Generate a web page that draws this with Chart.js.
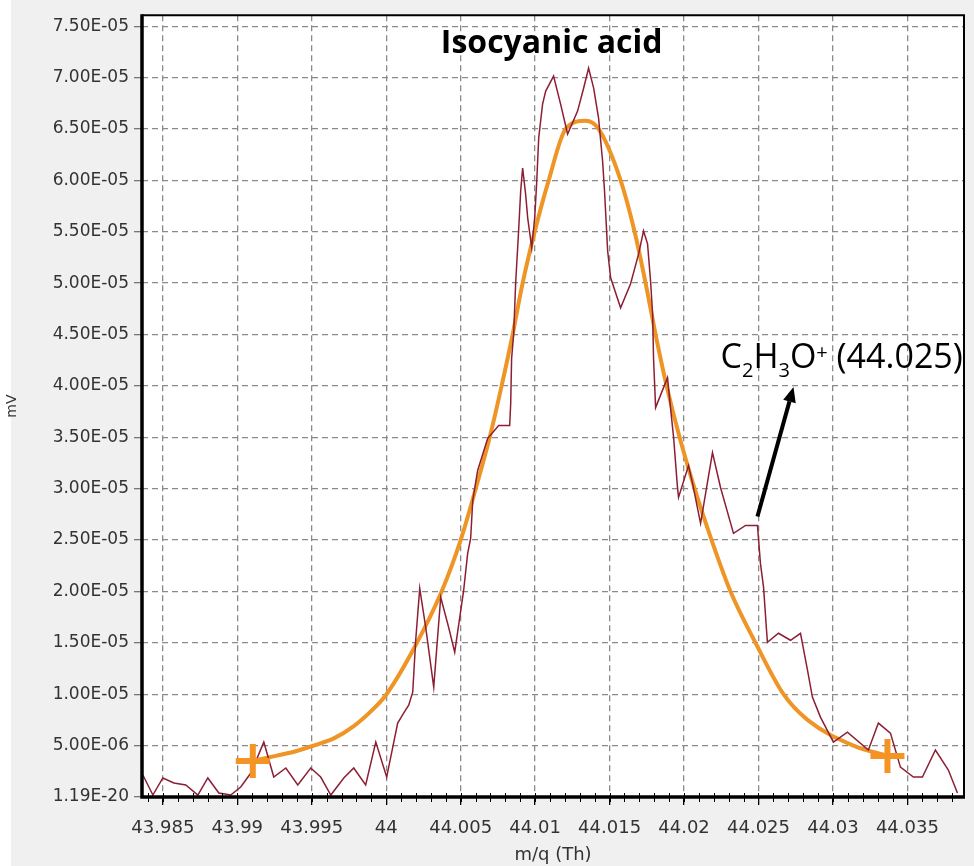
<!DOCTYPE html>
<html>
<head>
<meta charset="utf-8">
<script src="https://cdn.jsdelivr.net/npm/chart.js@4.4.1/dist/chart.umd.min.js"></script>
<style>
  html, body { margin: 0; padding: 0; background: #f0f0f0; }
  canvas { display: block; }
</style>
</head>
<body>
<canvas id="chart" width="974" height="866"></canvas>
<script>
// ── Data (m/q in Th, signal in mV) ────────────────────────────────
const rawMz = [
  43.98366, 43.98433, 43.98500, 43.98574, 43.98654, 43.98735, 43.98802, 43.98876,
  43.98956, 43.99023, 43.99091, 43.99178, 43.99245, 43.99326, 43.99406, 43.99493,
  43.99560, 43.99628, 43.99715, 43.99782, 43.99862, 43.99930, 44.00003, 44.00077,
  44.00117, 44.00151, 44.00178, 44.00198, 44.00225, 44.00265, 44.00319, 44.00366,
  44.00419, 44.00460, 44.00520, 44.00547, 44.00567, 44.00581, 44.00614, 44.00681,
  44.00755, 44.00829, 44.00836, 44.00842, 44.00856, 44.00869, 44.00889, 44.00903,
  44.00916, 44.00936, 44.00950, 44.00977, 44.00997, 44.01010, 44.01024, 44.01050,
  44.01071, 44.01124, 44.01171, 44.01218, 44.01285, 44.01326, 44.01359, 44.01393,
  44.01426, 44.01453, 44.01466, 44.01487, 44.01507, 44.01574, 44.01641, 44.01695,
  44.01728, 44.01755, 44.01775, 44.01789, 44.01795, 44.01809, 44.01889, 44.01909,
  44.01930, 44.01956, 44.01963, 44.02030, 44.02057, 44.02111, 44.02191, 44.02245,
  44.02332, 44.02413, 44.02493, 44.02513, 44.02534, 44.02554, 44.02560, 44.02634,
  44.02715, 44.02782, 44.02829, 44.02862, 44.02916, 44.03003, 44.03097, 44.03238,
  44.03305, 44.03386, 44.03453, 44.03540, 44.03601, 44.03688, 44.03775, 44.03836
];
const rawMv = [
  2.14e-6, 0.19e-6, 1.85e-6, 1.36e-6, 1.17e-6, 0.19e-6, 1.85e-6, 0.39e-6,
  0.19e-6, 0.97e-6, 2.33e-6, 5.34e-6, 1.94e-6, 2.82e-6, 1.17e-6, 2.82e-6,
  1.94e-6, 0.19e-6, 1.85e-6, 2.82e-6, 1.17e-6, 5.34e-6, 1.94e-6, 7.19e-6,
  8.16e-6, 8.94e-6, 10.20e-6, 15.25e-6, 20.30e-6, 16.52e-6, 10.69e-6, 19.43e-6,
  16.52e-6, 14.09e-6, 20.11e-6, 23.70e-6, 25.16e-6, 28.85e-6, 31.77e-6, 34.88e-6,
  36.14e-6, 36.14e-6, 38.28e-6, 42.65e-6, 45.08e-6, 49.94e-6, 55.08e-6, 58.97e-6,
  61.20e-6, 58.68e-6, 56.35e-6, 53.43e-6, 56.35e-6, 59.65e-6, 64.12e-6, 67.42e-6,
  68.69e-6, 70.14e-6, 67.42e-6, 64.51e-6, 66.74e-6, 68.98e-6, 70.92e-6, 68.98e-6,
  66.06e-6, 61.88e-6, 58.97e-6, 53.14e-6, 50.52e-6, 47.60e-6, 49.94e-6, 52.85e-6,
  55.08e-6, 53.82e-6, 50.23e-6, 47.02e-6, 42.75e-6, 37.89e-6, 40.80e-6, 37.89e-6,
  34.97e-6, 30.12e-6, 29.15e-6, 32.25e-6, 30.51e-6, 26.62e-6, 33.52e-6, 30.12e-6,
  25.65e-6, 26.42e-6, 26.42e-6, 22.73e-6, 20.40e-6, 16.22e-6, 15.06e-6, 15.93e-6,
  15.25e-6, 15.93e-6, 12.34e-6, 9.72e-6, 7.77e-6, 5.34e-6, 6.31e-6, 4.57e-6,
  7.19e-6, 6.22e-6, 2.91e-6, 1.94e-6, 1.94e-6, 4.57e-6, 2.62e-6, 0.39e-6
];

// fitted peak
const fitMz = [
  43.99104, 43.99258, 43.99393, 43.99513, 43.99648, 43.99782, 43.99916, 43.99997,
  44.00191, 44.00372, 44.00500, 44.00601, 44.00695, 44.00775, 44.00849, 44.00916,
  44.00997, 44.01091, 44.01205, 44.01339, 44.01426, 44.01574, 44.01668, 44.01742,
  44.01809, 44.01883, 44.01970, 44.02071, 44.02185, 44.02312, 44.02480, 44.02668,
  44.02829, 44.03138, 44.03366
];
const fitMv = [
  3.5e-6, 4.0e-6, 4.45e-6, 5.0e-6, 5.7e-6, 6.9e-6, 8.6e-6, 9.9e-6,
  14.6e-6, 20.0e-6, 25.0e-6, 30.0e-6, 35.0e-6, 40.0e-6, 45.0e-6, 50.0e-6,
  55.0e-6, 60.0e-6, 65.0e-6, 65.8e-6, 65.0e-6, 60.0e-6, 55.0e-6, 50.0e-6,
  45.0e-6, 40.0e-6, 35.0e-6, 30.0e-6, 25.0e-6, 20.0e-6, 15.0e-6, 10.0e-6,
  7.5e-6, 5.0e-6, 4.0e-6
];

// fit range markers
const markMz = [43.99104, 44.03366];
const markMv = [3.5e-6, 4.0e-6];

// axes
const xTicks      = [43.985, 43.99, 43.995, 44, 44.005, 44.01, 44.015, 44.02, 44.025, 44.03, 44.035];
const xTickLabels = ["43.985", "43.99", "43.995", "44", "44.005", "44.01", "44.015", "44.02", "44.025", "44.03", "44.035"];
const yTicks      = [0, 5e-6, 1e-5, 1.5e-5, 2e-5, 2.5e-5, 3e-5, 3.5e-5, 4e-5, 4.5e-5, 5e-5, 5.5e-5, 6e-5, 6.5e-5, 7e-5, 7.5e-5];
const yTickLabels = ["1.19E-20", "5.00E-06", "1.00E-05", "1.50E-05", "2.00E-05", "2.50E-05", "3.00E-05", "3.50E-05",
                     "4.00E-05", "4.50E-05", "5.00E-05", "5.50E-05", "6.00E-05", "6.50E-05", "7.00E-05", "7.50E-05"];

// annotations (data coordinates)
const titleText  = "Isocyanic acid";
const titleAt    = { x: 44.01111, y: 72.4e-6 };
const labelAt    = { x: 44.02245, y: 41.7e-6 };
const arrowFrom  = { x: 44.02493, y: 27.3e-6 };
const arrowTo    = { x: 44.02735, y: 39.9e-6 };

const pts = (xs, ys) => xs.map((x, i) => ({ x, y: ys[i] }));

// ── Plugins ───────────────────────────────────────────────────────
const backdrop = {
  id: "backdrop",
  beforeDraw(chart) {
    const { ctx, chartArea: a } = chart;
    ctx.save();
    ctx.fillStyle = "#f0f0f0";
    ctx.fillRect(0, 0, chart.width, chart.height);
    ctx.fillStyle = "#ffffff";
    ctx.fillRect(0, 0, 11, chart.height);
    ctx.fillRect(a.left, a.top, a.right - a.left, a.bottom - a.top);
    ctx.restore();
  }
};

const frame = {
  id: "frame",
  afterDatasetsDraw(chart) {
    const { ctx, chartArea: a, scales: { x } } = chart;
    ctx.save();
    // minor ticks every 0.001
    ctx.strokeStyle = "#000";
    ctx.lineWidth = 1;
    for (let i = Math.ceil(x.min * 1000); i <= Math.floor(x.max * 1000); i++) {
      const px = Math.round(x.getPixelForValue(i / 1000)) + 0.5;
      ctx.beginPath();
      ctx.moveTo(px, a.bottom - 4);
      ctx.lineTo(px, a.bottom + 5);
      ctx.stroke();
    }
    // plot border
    ctx.lineWidth = 2;
    ctx.beginPath();
    ctx.moveTo(a.left, a.top);
    ctx.lineTo(a.right, a.top);
    ctx.lineTo(a.right, a.bottom);
    ctx.stroke();
    ctx.lineWidth = 3.5;
    ctx.beginPath();
    ctx.moveTo(a.left, a.top - 1);
    ctx.lineTo(a.left, a.bottom);
    ctx.lineTo(a.right + 1, a.bottom);
    ctx.stroke();
    ctx.restore();
  }
};

const notes = {
  id: "notes",
  afterDraw(chart) {
    const { ctx, scales: { x, y } } = chart;
    ctx.save();
    ctx.fillStyle = "#000";
    ctx.textBaseline = "alphabetic";

    // title
    ctx.font = "bold 32px 'Open Sans'";
    ctx.textAlign = "center";
    ctx.fillText(titleText, x.getPixelForValue(titleAt.x), y.getPixelForValue(titleAt.y));

    // ion label C2H3O+ (44.025)
    ctx.textAlign = "left";
    let cx = x.getPixelForValue(labelAt.x);
    const by = y.getPixelForValue(labelAt.y);
    const parts = [
      ["C", 34, 0], ["2", 20, 9], ["H", 34, 0], ["3", 20, 9],
      ["O", 34, 0], ["+", 20, -9], [" (44.025)", 34, 0]
    ];
    for (const [t, size, dy] of parts) {
      ctx.font = `${size}px 'Open Sans'`;
      ctx.fillText(t, cx, by + dy);
      cx += ctx.measureText(t).width;
    }

    // arrow
    const x1 = x.getPixelForValue(arrowFrom.x), y1 = y.getPixelForValue(arrowFrom.y);
    const x2 = x.getPixelForValue(arrowTo.x),   y2 = y.getPixelForValue(arrowTo.y);
    const ang = Math.atan2(y2 - y1, x2 - x1);
    const head = 15, half = 6.5;
    const bx = x2 - head * Math.cos(ang), byy = y2 - head * Math.sin(ang);
    ctx.strokeStyle = "#000";
    ctx.lineWidth = 4;
    ctx.beginPath();
    ctx.moveTo(x1, y1);
    ctx.lineTo(bx, byy);
    ctx.stroke();
    ctx.beginPath();
    ctx.moveTo(x2, y2);
    ctx.lineTo(bx + half * Math.sin(ang), byy - half * Math.cos(ang));
    ctx.lineTo(bx - half * Math.sin(ang), byy + half * Math.cos(ang));
    ctx.closePath();
    ctx.fill();
    ctx.restore();
  }
};

// ── Chart ─────────────────────────────────────────────────────────
const gridColor = "#8a8a8a";

new Chart(document.getElementById("chart"), {
  type: "line",
  data: {
    datasets: [
      {
        label: "fit markers",
        data: pts(markMz, markMv),
        showLine: false,
        pointStyle: "cross",
        pointRadius: 17,
        pointBorderWidth: 6,
        pointBorderColor: "#f39425",
        order: 0,
      },
      {
        label: "raw",
        data: pts(rawMz, rawMv),
        borderColor: "#8c1f33",
        borderWidth: 1.5,
        pointRadius: 0,
        tension: 0,
        order: 1,
      },
      {
        label: "fit",
        data: pts(fitMz, fitMv),
        borderColor: "#ee9526",
        borderWidth: 4,
        pointRadius: 0,
        cubicInterpolationMode: "monotone",
        order: 2,
      },
    ]
  },
  options: {
    responsive: false,
    animation: false,
    layout: { autoPadding: false, padding: { top: 14, right: 10, left: 0, bottom: 0 } },
    plugins: { legend: { display: false }, tooltip: { enabled: false } },
    scales: {
      x: {
        type: "linear",
        min: 43.9836, max: 44.0388,
        afterBuildTicks: s => { s.ticks = xTicks.map(v => ({ value: v })); },
        afterFit: s => { s.height = 69; },
        ticks: {
          autoSkip: false, maxRotation: 0, padding: 13,
          color: "#333",
          font: { family: "'DejaVu Sans'", size: 18 },
          callback: (v, i) => xTickLabels[i],
        },
        grid: {
          color: gridColor, lineWidth: 1.3,
          tickColor: "#000", tickLength: 8, tickWidth: 1.3, tickBorderDash: [],
        },
        border: { display: false, dash: [6, 4] },
        title: {
          display: true, text: "m/q (Th)", color: "#333",
          font: { family: "'DejaVu Sans'", size: 18 },
          padding: { top: 0, bottom: 0 },
        },
      },
      y: {
        type: "linear",
        min: 0, max: 7.607e-5,
        afterBuildTicks: s => { s.ticks = yTicks.map(v => ({ value: v })); },
        afterFit: s => { s.width = 142; },
        ticks: {
          autoSkip: false, padding: 5,
          color: "#333",
          font: { family: "'DejaVu Sans'", size: 17 },
          callback: (v, i) => yTickLabels[i],
        },
        grid: {
          color: gridColor, lineWidth: 1.3,
          tickColor: "#777", tickLength: 8, tickWidth: 1.3, tickBorderDash: [],
        },
        border: { display: false, dash: [6, 4] },
        title: {
          display: true, text: "mV", color: "#333",
          font: { family: "'DejaVu Sans'", size: 14 },
          padding: { top: 4, bottom: 0 },
        },
      },
    },
  },
  plugins: [backdrop, frame, notes],
});
</script>
</body>
</html>
